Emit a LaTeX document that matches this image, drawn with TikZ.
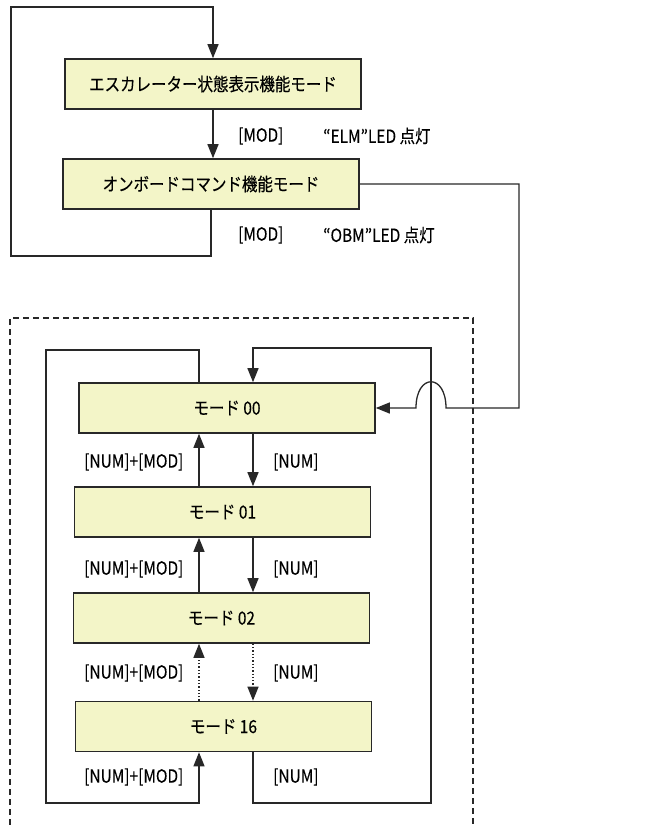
\documentclass[tikz,border=0pt]{standalone}
\usepackage{fontspec}
\setmainfont{Noto Sans CJK JP}[FakeStretch=0.86, FakeBold=0.3]
\usetikzlibrary{arrows.meta,positioning}
\definecolor{boxfill}{RGB}{243,245,200}
\definecolor{linegray}{RGB}{40,40,40}

\begin{document}
\begin{tikzpicture}[x=1pt, y=-1pt,
	box/.style={draw=linegray, line width=1.6pt, fill=boxfill, minimum width=296pt,
		minimum height=50pt, inner sep=0pt, font=\fontsize{18}{21}\selectfont},
	lbl/.style={anchor=west, inner sep=0pt, font=\fontsize{18}{21}\selectfont},
	arr/.style={-{Triangle[length=14pt, width=11pt]}, line width=1.3pt, draw=linegray},
	ln/.style={line width=1.3pt, draw=linegray}
]
	\useasboundingbox (0,0) rectangle (670,825);
	% upper modes
	\node[box] (elm) at (213, 84) {エスカレーター状態表示機能モード};
	\node[box] (obm) at (211, 184) {オンボードコマンド機能モード};
	\node[lbl] (mod1) at (238, 136) {[MOD]};
	\node[lbl] (led1) at (323, 136) {“ELM”LED 点灯};
	\node[lbl] (mod2) at (238, 235) {[MOD]};
	\node[lbl] (led2) at (323, 235) {“OBM”LED 点灯};
	\coordinate (tl) at (11, 7);
	\coordinate (bl) at (11, 256);
	\draw[arr] (elm.south) -- (elm.south |- obm.north);
	\draw[arr] (obm.south) |- (bl) -- (tl) -| (elm.north);
	% onboard command modes
	\draw[ln, dash pattern=on 6pt off 4pt] (10, 825) |- (473, 318) -- (473, 825);
	\node[box] (m00) at (227, 408) {モード 00};
	\node[box] (m01) at (222.5, 512) {モード 01};
	\node[box] (m02) at (221.5, 618) {モード 02};
	\node[box] (m16) at (223.5, 726.5) {モード 16};
	\coordinate (up) at (199, 0);
	\coordinate (dn) at (253, 0);
	\draw[arr] (m01.north -| up) -- (m00.south -| up);
	\draw[arr] (m00.south -| dn) -- (m01.north -| dn);
	\draw[arr] (m02.north -| up) -- (m01.south -| up);
	\draw[arr] (m01.south -| dn) -- (m02.north -| dn);
	\draw[arr, dotted] (m16.north -| up) -- (m02.south -| up);
	\draw[arr, dotted] (m02.south -| dn) -- (m16.north -| dn);
	\foreach \y/\n in {462/a, 569/b, 673/c, 777/d} {
		\node[lbl] (nm\n) at (84, \y) {[NUM]+[MOD]};
		\node[lbl] (num\n) at (273, \y) {[NUM]};
	}
	\coordinate (lt) at (46, 350);
	\coordinate (lb) at (46, 803);
	\coordinate (rt) at (431, 348);
	\coordinate (rb) at (431, 803);
	\draw[arr] (m00.north -| up) |- (lt) -- (lb) -| (m16.south -| up);
	\draw[arr] (m16.south -| dn) |- (rb) -- (rt) -| (m00.north -| dn);
	% jump over the loop line
	\coordinate (rr) at (519, 408);
	\coordinate (jR) at (446, 408);
	\coordinate (jL) at (416, 408);
	\draw[arr] (obm.east) -| (rr) -- (jR) .. controls +(0,-35) and +(0,-35) .. (jL) -- (m00.east);
\end{tikzpicture}
\end{document}
